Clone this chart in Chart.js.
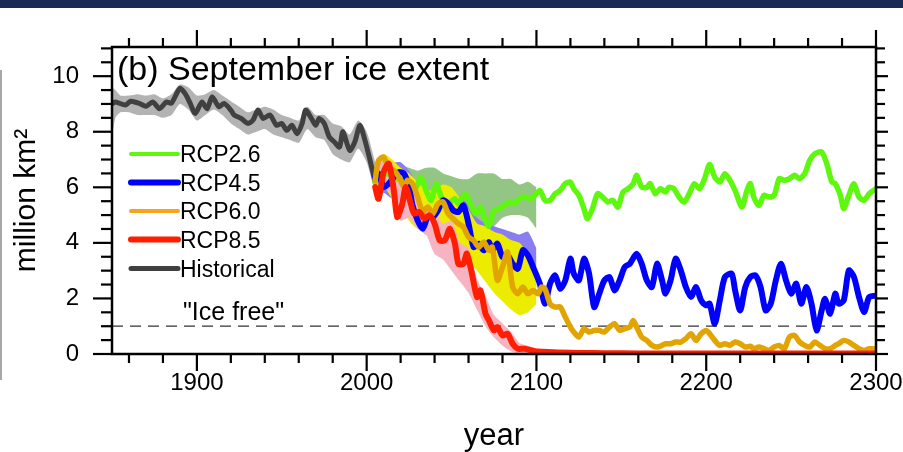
<!DOCTYPE html>
<html><head><meta charset="utf-8">
<script src="https://cdn.jsdelivr.net/npm/chart.js@4/dist/chart.umd.min.js"></script>
<style>html,body{margin:0;padding:0;background:#fff;overflow:hidden}canvas{display:block}</style>
</head><body>
<canvas id="c" width="903" height="452"></canvas>
<script>
// ---------- data ----------
const seriesNames = ['RCP2.6','RCP4.5','RCP6.0','RCP8.5','Historical'];
const xMajor = [1900,2000,2100,2200,2300];
const xMinor = [1860,1880,1920,1940,1960,1980,2020,2040,2060,2080,2120,2140,2160,2180,2220,2240,2260,2280];
const yMajor = [0,2,4,6,8,10];
const yMinor = [0.5,1,1.5,2.5,3,3.5,4.5,5,5.5,6.5,7,7.5,8.5,9,9.5,10.5,11];
const iceFree = 1;

const histYears = [1850,1852,1858,1861,1866,1870,1874,1878,1882,1885,1890,1893,1896,1899,1903,1906,1909,1913,1916,1920,1922,1926,1930,1933,1936,1939,1943,1947,1950,1953,1956,1959,1962,1964,1967,1970,1972,1975,1978,1981,1984,1986,1990,1993,1996,1999,2002,2005];
const histVals  = [9.0,9.07,8.96,9.1,9.02,8.92,9.07,8.83,9.07,9.03,9.56,9.38,9.03,8.66,9.07,8.83,9.25,8.9,9.02,8.78,8.6,8.48,8.3,8.41,8.78,8.48,8.6,8.23,8.3,8.05,8.23,7.93,8.3,8.78,8.53,8.23,8.48,8.3,7.81,7.63,7.45,8.0,7.33,7.63,8.23,7.69,6.97,6.2];

const histBandYears = [1850,1852,1855,1860,1865,1870,1875,1880,1885,1890,1895,1900,1905,1910,1915,1920,1925,1930,1935,1940,1945,1950,1955,1960,1965,1970,1975,1980,1985,1990,1995,2000,2005];
const histUpper = [9.6,9.5,9.3,9.3,9.35,9.3,9.35,9.2,9.35,9.7,9.6,9.3,9.35,9.5,9.3,9.1,8.9,8.7,8.8,8.9,8.8,8.6,8.5,8.4,8.9,8.6,8.6,8.3,8.2,7.9,8.4,8.0,6.9];
const histLower = [7.8,8.5,8.7,8.7,8.6,8.6,8.6,8.5,8.6,9.0,8.8,8.4,8.6,8.8,8.6,8.3,8.1,7.9,8.0,8.1,7.9,7.8,7.7,7.6,8.1,7.8,7.7,7.2,7.0,6.9,7.4,6.9,5.8];

const rcp26Years = [2005,2012,2018,2024,2029,2032,2035,2038,2041,2044,2048,2052,2054,2058,2061,2064,2067,2070,2072,2075,2078,2081,2084,2087,2090,2093,2096,2099,2102,2105,2108,2111,2114,2117,2120,2122,2125,2128,2130,2133,2136,2139,2142,2145,2148,2151,2154,2157,2159,2162,2165,2167,2170,2173,2176,2178,2181,2184,2187,2190,2193,2196,2199,2202,2205,2208,2211,2214,2217,2221,2224,2226,2228,2231,2234,2237,2240,2243,2246,2249,2252,2255,2258,2261,2264,2268,2271,2274,2276,2279,2281,2284,2287,2290,2293,2296,2300];
const rcp26Vals  = [6.19,6.5,6.3,6.25,6.0,6.37,5.89,5.53,6.13,5.65,5.41,5.59,5.41,5.77,5.41,5.05,5.29,4.81,4.6,5.17,5.23,5.35,5.47,5.41,5.59,5.65,5.59,5.71,5.89,5.53,5.53,5.77,5.89,6.13,6.19,5.95,5.71,5.23,4.87,5.23,5.77,5.65,5.47,5.53,5.29,5.83,5.95,6.13,6.43,6.01,6.0,6.13,5.77,5.95,5.83,6.0,5.95,5.65,5.47,5.77,6.13,5.95,6.3,6.82,6.37,6.19,6.49,6.25,5.89,5.29,5.89,6.13,5.65,5.35,5.71,5.65,5.71,6.31,6.25,6.31,6.43,6.31,6.49,6.97,7.21,7.27,6.85,6.19,6.13,5.71,5.23,5.71,6.13,5.65,5.53,5.77,5.95];

const rcp45Years = [2005,2007,2010,2013,2016,2019,2022,2025,2027,2030,2033,2036,2039,2042,2045,2048,2051,2054,2057,2060,2063,2066,2069,2072,2074,2077,2080,2083,2086,2089,2092,2095,2098,2102,2105,2108,2111,2114,2117,2120,2122,2125,2128,2131,2134,2137,2140,2143,2146,2149,2152,2155,2159,2162,2165,2168,2171,2174,2176,2179,2182,2185,2188,2191,2194,2197,2200,2202,2205,2208,2211,2215,2217,2220,2223,2226,2229,2232,2235,2238,2241,2244,2247,2250,2253,2256,2259,2262,2265,2268,2270,2273,2276,2278,2281,2284,2287,2290,2293,2296,2300];
const rcp45Vals  = [6.37,6.49,6.01,6.13,6.37,6.55,6.49,6.01,5.35,4.81,4.51,4.93,4.93,5.17,5.53,5.41,5.17,5.11,5.35,4.69,3.85,3.97,3.73,4.03,3.73,3.97,3.49,3.55,3.25,3.07,3.73,3.55,3.13,2.53,1.81,2.53,2.83,2.35,2.65,3.43,2.89,2.65,3.43,2.89,1.69,2.17,2.65,2.77,2.29,2.65,3.13,3.25,3.61,3.25,2.65,2.41,3.25,2.65,2.17,2.65,3.43,3.01,2.41,2.05,2.41,1.93,1.75,1.81,1.09,1.93,2.77,2.89,2.29,1.57,2.41,2.77,2.83,2.41,1.57,1.81,2.65,3.25,2.65,2.17,2.53,1.81,2.41,1.81,0.85,1.57,1.99,1.45,2.17,1.81,1.93,3.01,2.77,2.05,1.51,2.05,2.1];

const rcp60Years = [2005,2007,2010,2013,2016,2019,2022,2024,2027,2030,2033,2036,2039,2042,2045,2048,2051,2054,2057,2060,2063,2066,2069,2072,2074,2077,2080,2083,2086,2089,2092,2095,2098,2101,2103,2105,2108,2111,2114,2117,2120,2122,2125,2128,2131,2134,2137,2140,2143,2146,2149,2152,2155,2157,2159,2162,2165,2168,2171,2174,2176,2179,2182,2185,2188,2191,2194,2197,2200,2202,2205,2208,2211,2214,2217,2220,2223,2226,2228,2231,2234,2237,2240,2243,2246,2249,2252,2255,2258,2261,2264,2267,2270,2273,2276,2278,2281,2284,2287,2290,2293,2296,2300];
const rcp60Vals  = [6.25,6.97,7.09,6.67,6.61,6.37,6.01,6.25,6.13,5.65,5.11,5.29,5.05,5.41,5.47,5.05,4.87,4.69,4.57,4.21,4.09,3.85,4.03,3.73,3.85,2.65,3.13,3.67,2.41,2.17,2.41,2.17,2.29,2.17,2.41,2.35,1.81,1.69,1.69,1.33,0.97,0.79,0.61,0.91,0.79,0.85,0.85,0.79,0.97,1.09,0.85,0.91,0.97,1.21,0.97,0.61,0.49,0.31,0.25,0.31,0.37,0.37,0.43,0.43,0.55,0.73,0.49,0.73,0.85,0.73,0.49,0.31,0.37,0.31,0.43,0.37,0.25,0.28,0.19,0.25,0.19,0.13,0.25,0.31,0.19,0.61,0.67,0.43,0.31,0.25,0.43,0.31,0.19,0.19,0.31,0.37,0.49,0.43,0.31,0.19,0.13,0.19,0.19];

const rcp85Years = [2005,2007,2010,2013,2016,2018,2021,2023,2026,2028,2031,2034,2037,2040,2043,2046,2049,2052,2054,2057,2059,2062,2065,2067,2070,2072,2075,2077,2080,2083,2086,2089,2093,2099,2110,2125,2140,2160,2200,2250,2300];
const rcp85Vals  = [6.01,5.59,6.55,6.85,5.89,4.93,5.41,6.01,5.41,5.05,5.11,4.87,4.99,4.69,4.09,4.09,4.51,3.97,3.25,3.25,3.61,2.89,2.05,2.29,1.45,1.21,0.85,0.97,0.67,0.73,0.37,0.19,0.19,0.1,0.06,0.04,0.03,0.02,0.02,0.02,0.02];

const bandYears = [2005,2010,2015,2020,2025,2030,2035,2040,2045,2050,2055,2060,2065,2070,2075,2080,2085,2090,2095,2100];
const rcp26Upper = [6.7,7.0,6.9,6.8,6.7,6.6,6.7,6.7,6.5,6.4,6.3,6.3,6.5,6.5,6.5,6.3,6.3,6.1,6.2,6.0];
const rcp26Lower = [5.8,6.0,5.8,5.6,5.4,5.3,5.2,5.1,5.0,4.9,4.9,4.9,4.7,4.5,4.6,4.9,5.0,5.0,4.9,4.5];
const rcp45Upper = [6.9,7.1,6.9,6.9,6.6,6.1,5.7,5.7,5.8,5.7,5.6,5.4,4.9,4.7,4.6,4.5,4.4,4.3,4.4,3.8];
const rcp45Lower = [5.8,5.8,5.6,5.8,5.4,4.6,4.3,4.4,4.7,4.6,4.5,4.0,3.3,3.2,3.1,2.9,2.7,2.5,2.6,2.4];
const rcp60Upper = [6.8,7.2,7.0,6.7,6.5,6.2,5.9,5.9,6.1,6.0,5.6,5.2,4.7,4.6,4.4,4.3,4.1,4.0,3.6,3.0];
const rcp60Lower = [5.6,6.0,5.6,5.3,4.8,4.5,4.4,4.3,4.4,4.0,3.6,3.3,3.0,2.6,2.2,1.9,1.6,1.4,1.5,1.8];
const rcp85Upper = [6.5,7.0,6.9,6.2,6.1,5.5,5.3,5.1,4.7,4.8,4.0,3.8,2.7,2.1,1.4,1.1,0.8,0.4,0.3,0.2];
const rcp85Lower = [5.5,6.0,5.7,4.8,4.9,4.5,4.3,3.6,3.4,3.0,2.6,2.2,1.6,1.0,0.6,0.3,0.1,0.0,0.0,0.0];

// ---------- styles ----------
const FONT = "'Liberation Sans', Arial, Helvetica, sans-serif";
const lineColors = ['#5ef80f','#0000ff','#e2a400','#ff1e00','#404040'];
const legendColors = ['#5ef80f','#0000ff','#f7a41c','#ff1e00','#404040'];
const legendWidths = [4,6,4,6,5];
const bandColors = ['#93c585','#8a7df0','#ecec00','#f6b4c3','#b3b3b3'];

const pts = (xs, ys) => xs.map((x, i) => ({x: x, y: ys[i]}));
function band(xs, up, lo, color, order) {
  return [
    {data: pts(xs, up), borderWidth: 0, pointRadius: 0, fill: '+1', backgroundColor: color, borderColor: color, order: order, tension: 0.2},
    {data: pts(xs, lo), borderWidth: 0, pointRadius: 0, fill: false, borderColor: color, order: order, tension: 0.2}
  ];
}
function line(xs, ys, color, w, order) {
  return {data: pts(xs, ys), borderColor: color, borderWidth: w, pointRadius: 0, fill: false, order: order, tension: 0.25,
          borderCapStyle: 'round', borderJoinStyle: 'round'};
}

const datasets = [
  ...band(histBandYears, histUpper, histLower, bandColors[4], 20),
  ...band(bandYears, rcp26Upper, rcp26Lower, bandColors[0], 19),
  ...band(bandYears, rcp45Upper, rcp45Lower, bandColors[1], 18),
  ...band(bandYears, rcp60Upper, rcp60Lower, bandColors[2], 17),
  ...band(bandYears, rcp85Upper, rcp85Lower, bandColors[3], 16),
  {data: [{x:1850, y:iceFree},{x:2300, y:iceFree}], borderColor:'#333', borderWidth:1.3, borderDash:[11,7], pointRadius:0, fill:false, order: 10, tension:0},
  line(histYears, histVals, lineColors[4], 5, 6),
  line(rcp26Years, rcp26Vals, lineColors[0], 5.5, 5),
  line(rcp45Years, rcp45Vals, lineColors[1], 6, 4),
  line(rcp60Years, rcp60Vals, lineColors[2], 5.5, 3),
  line(rcp85Years, rcp85Vals, lineColors[3], 6, 2)
];

const decor = {
  id: 'decor',
  beforeDraw(chart) {
    const c = chart.ctx;
    c.save();
    c.fillStyle = '#fff'; c.fillRect(0, 0, chart.width, chart.height);
    c.fillStyle = '#1b2b53'; c.fillRect(0, 0, chart.width, 8);
    c.strokeStyle = '#a8a8a8'; c.lineWidth = 2;
    c.beginPath(); c.moveTo(1, 70); c.lineTo(1, 380); c.stroke();
    c.restore();
  },
  afterDatasetsDraw(chart) {
    const c = chart.ctx, a = chart.chartArea;
    const xs = chart.scales.x, ys = chart.scales.y;
    c.save();
    c.strokeStyle = '#000'; c.lineWidth = 2.5; c.lineCap = 'butt';
    c.strokeRect(a.left, a.top, a.right - a.left, a.bottom - a.top);
    c.lineWidth = 2.2;
    const tick = (x1, y1, x2, y2) => { c.beginPath(); c.moveTo(x1, y1); c.lineTo(x2, y2); c.stroke(); };
    xMajor.forEach(v => { const p = xs.getPixelForValue(v); tick(p, a.bottom, p, a.bottom + 17); tick(p, a.top, p, a.top - 17); });
    xMinor.forEach(v => { const p = xs.getPixelForValue(v); tick(p, a.bottom, p, a.bottom + 9); tick(p, a.top, p, a.top - 9); });
    yMajor.forEach(v => { const p = ys.getPixelForValue(v); tick(a.left, p, a.left - 19, p); tick(a.right, p, a.right + 12, p); });
    yMinor.forEach(v => { const p = ys.getPixelForValue(v); tick(a.left, p, a.left - 11, p); tick(a.right, p, a.right + 9, p); });
    // title
    c.fillStyle = '#000'; c.textAlign = 'left'; c.textBaseline = 'alphabetic';
    c.font = '34px ' + FONT;
    c.fillText('(b) September ice extent', 117, 80);
    // ice free label
    c.font = '25px ' + FONT;
    c.fillText('"Ice free"', 183, 320);
    // legend
    const rowY = [154, 182.5, 211, 239.5, 268.5];
    seriesNames.forEach((n, i) => {
      c.strokeStyle = legendColors[i]; c.lineWidth = legendWidths[i]; c.lineCap = 'round';
      tick(131, rowY[i], 178, rowY[i]);
      c.fillStyle = '#000'; c.font = '23px ' + FONT;
      c.fillText(n, 180, rowY[i] + 8);
    });
    c.restore();
  }
};

new Chart(document.getElementById('c'), {
  type: 'line',
  data: {datasets: datasets},
  options: {
    responsive: false, animation: false, events: [], devicePixelRatio: 1,
    layout: {padding: {top: 47, right: 27, left: 0, bottom: 0}},
    plugins: {legend: {display: false}, tooltip: {enabled: false}, title: {display: false}},
    scales: {
      x: {
        type: 'linear', min: 1850, max: 2300,
        grid: {display: false, drawTicks: false}, border: {display: false},
        afterBuildTicks: s => { s.ticks = xMajor.map(v => ({value: v})); },
        afterFit: s => { s.height = 98; s.paddingLeft = 0; s.paddingRight = 0; },
        ticks: {padding: 17, color: '#000', autoSkip: false, maxRotation: 0, font: {family: FONT, size: 24, lineHeight: 1},
                callback: v => String(v)},
        title: {display: true, text: 'year', color: '#000', font: {family: FONT, size: 31, lineHeight: 1}, padding: {top: 0, bottom: 0}}
      },
      y: {
        type: 'linear', min: 0, max: 11.05,
        grid: {display: false, drawTicks: false}, border: {display: false},
        afterBuildTicks: s => { s.ticks = yMajor.map(v => ({value: v})); },
        afterFit: s => { s.width = 112; s.paddingTop = 0; s.paddingBottom = 0; },
        ticks: {padding: 33, color: '#000', font: {family: FONT, size: 24, lineHeight: 1}, callback: v => String(v)},
        title: {display: true, text: 'million km²', color: '#000', font: {family: FONT, size: 30, lineHeight: 1}, padding: {top: 12, bottom: 0}}
      }
    }
  },
  plugins: [decor]
});
</script>
</body></html>
